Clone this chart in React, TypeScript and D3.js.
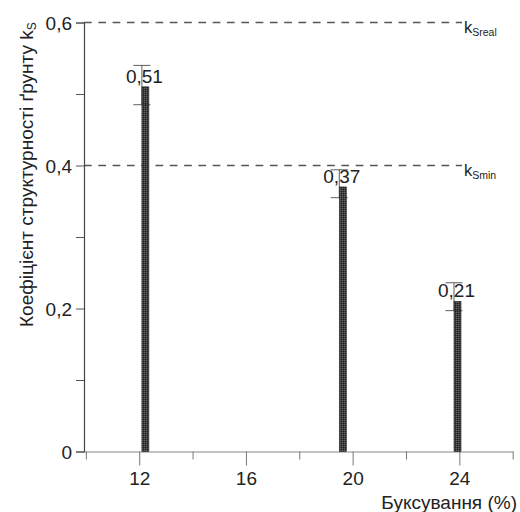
import React from "react";
import * as d3 from "d3";

// values
const slipPercent = [12.1, 19.5, 23.8];
const soilCoef = [0.51, 0.37, 0.21];
const errHigh = [0.54, 0.394, 0.236];
const errLow = [0.485, 0.355, 0.197];
const valueLabels = ["0,51", "0,37", "0,21"];

const yMajorTicks = [0, 0.2, 0.4, 0.6];
const yMinorTicks = [0.1, 0.3, 0.5];
const xMajorTicks = [12, 16, 20, 24];
const xMinorTicks = [10, 14, 18, 22, 26];

const refValues = [0.6, 0.4];
const refSubs = ["Sreal", "Smin"];

const FONT = "'Liberation Sans', Arial, sans-serif";

const App = () => {
  const svgRef = React.useRef<SVGSVGElement>(null);
  const width = 520;
  const height = 512;

  React.useEffect(() => {
    const xScale = d3.scaleLinear().domain([9.93, 26]).range([84, 512.7]);
    const yScale = d3.scaleLinear().domain([0, 0.6]).range([451.5, 22.5]);
    const fmt = (d: number) => (d === 0 ? "0" : String(d).replace(".", ","));

    const svg = d3.select(svgRef.current);
    svg.selectAll("*").remove();

    // stipple pattern for the bars
    const defs = svg.append("defs");
    const pat = defs.append("pattern")
      .attr("id", "stipple")
      .attr("width", 2)
      .attr("height", 2)
      .attr("patternUnits", "userSpaceOnUse");
    pat.append("rect").attr("width", 2).attr("height", 2).attr("fill", "#3c3c3c");
    pat.append("rect").attr("width", 1).attr("height", 1).attr("fill", "#666");
    pat.append("rect").attr("x", 1).attr("y", 1).attr("width", 1).attr("height", 1).attr("fill", "#222");

    // dashed reference lines
    svg.selectAll(".ref")
      .data(refValues)
      .enter().append("line")
      .attr("class", "ref")
      .attr("x1", 84)
      .attr("x2", 462)
      .attr("y1", d => yScale(d))
      .attr("y2", d => yScale(d))
      .attr("stroke", "#555")
      .attr("stroke-width", 1.3)
      .attr("stroke-dasharray", "7.7 6.6");

    const refText = svg.selectAll(".refText")
      .data(refValues)
      .enter().append("text")
      .attr("class", "refText")
      .attr("x", 464)
      .attr("y", d => yScale(d) + 10)
      .attr("font-family", FONT)
      .attr("font-size", 16.5)
      .attr("fill", "#222");
    refText.append("tspan").text("k");
    refText.append("tspan")
      .attr("dy", 3)
      .attr("font-size", 10.5)
      .text((d, i) => refSubs[i]);

    // y axis
    const yAxis = d3.axisLeft(yScale).tickValues(yMajorTicks).tickSize(8).tickPadding(4).tickFormat(fmt as any);
    const yG = svg.append("g").attr("transform", "translate(84,0)").call(yAxis);
    yG.select(".domain").attr("stroke", "#444").attr("stroke-width", 1.2);
    yG.selectAll("line").attr("stroke", "#555");
    yG.selectAll("text")
      .attr("font-family", FONT)
      .attr("font-size", 19)
      .attr("fill", "#222")
      .attr("dy", "0.38em");
    const yMinor = d3.axisLeft(yScale).tickValues(yMinorTicks).tickSize(8).tickFormat(() => "");
    const yMG = svg.append("g").attr("transform", "translate(84,0)").call(yMinor);
    yMG.select(".domain").remove();
    yMG.selectAll("line").attr("stroke", "#555");

    // x axis
    const xAxis = d3.axisBottom(xScale).tickValues(xMajorTicks).tickSize(14).tickSizeOuter(0).tickPadding(6);
    const xG = svg.append("g").attr("transform", `translate(0,${yScale(0)})`).call(xAxis);
    xG.select(".domain").attr("stroke", "#888").attr("stroke-width", 1.2);
    xG.selectAll("line").attr("stroke", "#777");
    xG.selectAll("text")
      .attr("font-family", FONT)
      .attr("font-size", 19)
      .attr("fill", "#222");
    const xMinor = d3.axisBottom(xScale).tickValues(xMinorTicks).tickSize(8).tickFormat(() => "");
    const xMG = svg.append("g").attr("transform", `translate(0,${yScale(0)})`).call(xMinor);
    xMG.select(".domain").remove();
    xMG.selectAll("line").attr("stroke", "#777");

    // bars
    svg.selectAll(".bar")
      .data(soilCoef)
      .enter().append("rect")
      .attr("class", "bar")
      .attr("x", (d, i) => xScale(slipPercent[i]))
      .attr("y", d => yScale(d))
      .attr("width", 7)
      .attr("height", d => yScale(0) - yScale(d))
      .attr("fill", "url(#stipple)")
      .attr("stroke", "#222")
      .attr("stroke-width", 0.6);

    // error bars
    const err = svg.selectAll(".err")
      .data(soilCoef)
      .enter().append("g")
      .attr("class", "err")
      .attr("stroke", "#333")
      .attr("stroke-width", 0.8);
    err.append("line")
      .attr("x1", (d, i) => xScale(slipPercent[i]))
      .attr("x2", (d, i) => xScale(slipPercent[i]))
      .attr("y1", (d, i) => yScale(errHigh[i]))
      .attr("y2", (d, i) => yScale(errLow[i]));
    err.append("line")
      .attr("x1", (d, i) => xScale(slipPercent[i]) - 8.5)
      .attr("x2", (d, i) => xScale(slipPercent[i]) + 8.5)
      .attr("y1", (d, i) => yScale(errHigh[i]))
      .attr("y2", (d, i) => yScale(errHigh[i]));
    err.append("line")
      .attr("x1", (d, i) => xScale(slipPercent[i]) - 8.5)
      .attr("x2", (d, i) => xScale(slipPercent[i]) + 8.5)
      .attr("y1", (d, i) => yScale(errLow[i]))
      .attr("y2", (d, i) => yScale(errLow[i]));

    // value labels
    svg.selectAll(".val")
      .data(soilCoef)
      .enter().append("text")
      .attr("class", "val")
      .attr("x", (d, i) => xScale(slipPercent[i]) + 2.5)
      .attr("y", d => yScale(d) - 4)
      .attr("text-anchor", "middle")
      .attr("font-family", FONT)
      .attr("font-size", 19)
      .attr("fill", "#222")
      .text((d, i) => valueLabels[i]);

    // axis titles
    svg.append("text")
      .attr("x", 517)
      .attr("y", 509)
      .attr("text-anchor", "end")
      .attr("font-family", FONT)
      .attr("font-size", 19)
      .attr("fill", "#222")
      .text("Буксування (%)");

    const yTitle = svg.append("text")
      .attr("transform", "translate(33,327) rotate(-90)")
      .attr("font-family", FONT)
      .attr("font-size", 19)
      .attr("fill", "#222");
    yTitle.append("tspan").text("Коефіцієнт структурності ґрунту k");
    yTitle.append("tspan").attr("dy", 3).attr("font-size", 12).text("S");
  }, []);

  return (
    <svg
      ref={svgRef}
      width={width}
      height={height}
      style={{ position: "absolute", left: 0, top: 0, background: "#fff" }}
    />
  );
};

export default App;
